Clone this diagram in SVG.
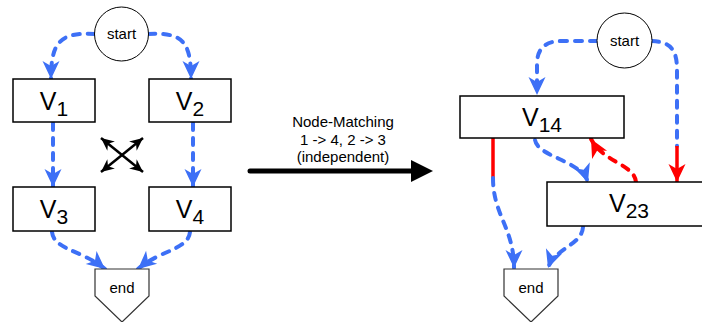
<svg xmlns="http://www.w3.org/2000/svg" width="702" height="322" viewBox="0 0 702 322">
  <style>
    .box { fill: #ffffff; stroke: #000000; stroke-width: 1.5; }
    .circ { fill: #ffffff; stroke: #000000; stroke-width: 1; }
    .pent { fill: #ffffff; stroke: #333333; stroke-width: 1.2; }
    .lbl { font-family: "Liberation Sans", Arial, sans-serif; fill: #000000; text-anchor: middle; }
    .small { font-size: 15px; }
    .big { font-size: 25px; }
    .sub { font-size: 21px; }
    .blue { fill: none; stroke: #3d70f6; stroke-width: 4; stroke-dasharray: 7 8; stroke-linecap: round; }
    .reddash { fill: none; stroke: #ff0000; stroke-width: 4; stroke-dasharray: 7 8; stroke-linecap: round; }
    .red { fill: none; stroke: #ff0000; stroke-width: 3.5; }
    .blk { fill: none; stroke: #000000; stroke-width: 2.5; }
  </style>
  <defs>
    <marker id="ahBlue" markerUnits="userSpaceOnUse" markerWidth="22" markerHeight="20" viewBox="-20 -10 22 20" refX="0" refY="0" orient="auto">
      <path d="M0,0 L-18,-8.5 L-13,0 L-18,8.5 Z" fill="#3d70f6"/>
    </marker>
    <marker id="ahRed" markerUnits="userSpaceOnUse" markerWidth="22" markerHeight="20" viewBox="-20 -10 22 20" refX="0" refY="0" orient="auto">
      <path d="M0,0 L-18,-8.5 L-13,0 L-18,8.5 Z" fill="#ff0000"/>
    </marker>
    <marker id="ahBlk" markerUnits="userSpaceOnUse" markerWidth="16" markerHeight="14" viewBox="-14 -7 16 14" refX="0" refY="0" orient="auto-start-reverse">
      <path d="M0,0 L-13,-6 L-9,0 L-13,6 Z" fill="#000000"/>
    </marker>
  </defs>

  <!-- connectors -->
  <g id="connectors">
    <!-- left graph -->
    <path class="blue" d="M95,34 C60,32 51,42 51,79" marker-end="url(#ahBlue)"/>
    <path class="blue" d="M148,34 C183,32 191,42 191,79" marker-end="url(#ahBlue)"/>
    <path class="blue" d="M53,123 L53,187" marker-end="url(#ahBlue)"/>
    <path class="blue" d="M193,123 L193,187" marker-end="url(#ahBlue)"/>
    <path class="blue" d="M52,232 C54,250 82,250 105,269" marker-end="url(#ahBlue)"/>
    <path class="blue" d="M190,232 C188,250 160,250 138,269" marker-end="url(#ahBlue)"/>
    <!-- crossed double arrows -->
    <path class="blk" d="M101,138 L143,172" marker-start="url(#ahBlk)" marker-end="url(#ahBlk)"/>
    <path class="blk" d="M143,138 L101,172" marker-start="url(#ahBlk)" marker-end="url(#ahBlk)"/>

    <!-- transformation arrow -->
    <line x1="250" y1="171" x2="414" y2="171" stroke="#000000" stroke-width="5" stroke-linecap="round"/>
    <polygon points="411,160 433,171 411,182" fill="#000000"/>

    <!-- right graph -->
    <path class="blue" d="M597,41 L562,41 C546,41 537,48 537,64 L537,95" marker-end="url(#ahBlue)"/>
    <path class="blue" d="M652,41 C671,42 677,50 677,70 L677,146"/>
    <path class="red" d="M677,146 L677,182" marker-end="url(#ahRed)"/>
    <path class="blue" d="M535,140 C538,157 580,160 588,182" marker-end="url(#ahBlue)"/>
    <path class="reddash" d="M636,182 C634,164 604,163 591,139" marker-end="url(#ahRed)"/>
    <path class="red" d="M493,138 L493,178"/>
    <path class="blue" d="M493,178 C493,215 514,228 514,268" marker-end="url(#ahBlue)"/>
    <path class="blue" d="M583,227 C582,245 555,248 548,268" marker-end="url(#ahBlue)"/>
  </g>

  <!-- left graph nodes -->
  <g id="startL">
    <circle class="circ" cx="121.5" cy="34" r="27"/>
    <text class="lbl small" x="121.5" y="39">start</text>
  </g>
  <g id="v1">
    <rect class="box" x="13" y="79" width="82" height="43"/>
    <text class="lbl" x="54" y="110"><tspan class="big">V</tspan><tspan class="sub" dy="6">1</tspan></text>
  </g>
  <g id="v2">
    <rect class="box" x="149" y="79" width="82" height="43"/>
    <text class="lbl" x="190" y="110"><tspan class="big">V</tspan><tspan class="sub" dy="6">2</tspan></text>
  </g>
  <g id="v3">
    <rect class="box" x="13" y="187" width="82" height="44"/>
    <text class="lbl" x="54" y="218"><tspan class="big">V</tspan><tspan class="sub" dy="6">3</tspan></text>
  </g>
  <g id="v4">
    <rect class="box" x="149" y="187" width="82" height="44"/>
    <text class="lbl" x="190" y="218"><tspan class="big">V</tspan><tspan class="sub" dy="6">4</tspan></text>
  </g>
  <g id="endL">
    <polygon class="pent" points="95,269 149,269 149,296 122,322 95,296"/>
    <text class="lbl small" x="122" y="293">end</text>
  </g>

  <!-- transformation label -->
  <g id="matching">
    <text class="lbl small" x="343" y="127">Node-Matching</text>
    <text class="lbl small" x="343" y="145">1 -&gt; 4, 2 -&gt; 3</text>
    <text class="lbl small" x="343" y="162">(independent)</text>
  </g>

  <!-- right graph nodes -->
  <g id="startR">
    <circle class="circ" cx="624.5" cy="40.5" r="27.5"/>
    <text class="lbl small" x="624.5" y="46">start</text>
  </g>
  <g id="v14">
    <rect class="box" x="460" y="96" width="164" height="42"/>
    <text class="lbl" x="542" y="126"><tspan class="big">V</tspan><tspan class="sub" dy="6">14</tspan></text>
  </g>
  <g id="v23">
    <rect class="box" x="547" y="182" width="164" height="44"/>
    <text class="lbl" x="629" y="212"><tspan class="big">V</tspan><tspan class="sub" dy="6">23</tspan></text>
  </g>
  <g id="endR">
    <polygon class="pent" points="504,269 558,269 558,296 531,322 504,296"/>
    <text class="lbl small" x="531" y="293">end</text>
  </g>
</svg>
